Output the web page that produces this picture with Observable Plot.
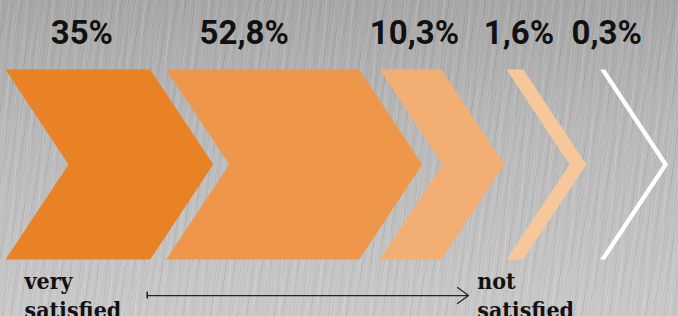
<!DOCTYPE html>
<html><head><meta charset="utf-8">
<script src="https://cdn.jsdelivr.net/npm/d3@7"></script>
<script src="https://cdn.jsdelivr.net/npm/@observablehq/plot@0.6"></script>
<style>
html,body{margin:0;padding:0;background:#bbb;}
#chart{width:678px;height:316px;overflow:hidden;position:relative;
background:
 repeating-linear-gradient(97deg, rgba(255,255,255,0.10) 0px, rgba(255,255,255,0.10) 1px, transparent 1px, transparent 4px, rgba(0,0,0,0.05) 4px, rgba(0,0,0,0.05) 5px, transparent 5px, transparent 9px),
 repeating-linear-gradient(94deg, rgba(255,255,255,0.07) 0px, rgba(255,255,255,0.07) 2px, transparent 2px, transparent 13px),
 repeating-linear-gradient(101deg, rgba(0,0,0,0.04) 0px, rgba(0,0,0,0.04) 1px, transparent 1px, transparent 7px),
 linear-gradient(to bottom, #a7a7a7 0%, #afafaf 18%, #b9b9b9 40%, #c1c1c1 70%, #c9c9c9 100%);
}
#chart svg{display:block;}
</style></head><body><div id="chart"></div>
<script>
// ---- data ----
const values = [35, 52.8, 10.3, 1.6, 0.3];
const valueLabels = ["35%", "52,8%", "10,3%", "1,6%", "0,3%"];
const colors = ["#E98225", "#EE974A", "#F2AE73", "#F6C79A", "#FFFFFF"];
const scaleEnds = ["very\nsatisfied", "not\nsatisfied"];

// ---- layout ----
const W = 678, H = 316;
const depth = 63, gap = 16, minStep = 82, left0 = 5;
const widthScale = Plot.scale({x: {type: "pow", exponent: 0.7, domain: [0, d3.max(values)], range: [0, 193]}});
const layout = [];
let prevR = null;
values.forEach((v, i) => {
  const w = widthScale.apply(v);
  const R = i === 0 ? left0 + w : Math.max(prevR + gap + w, prevR + minStep);
  layout.push({L: R - w, R, w, v, label: valueLabels[i], color: colors[i]});
  prevR = R;
});

const chevronMarks = layout.map(c => {
  const pts = [
    {x: c.L, y: 1}, {x: c.R, y: 1}, {x: c.R + depth, y: 0.5},
    {x: c.R, y: 0}, {x: c.L, y: 0}, {x: c.L + depth, y: 0.5}
  ];
  return Plot.line(pts, {x: "x", y: "y", fill: c.color, stroke: "none", curve: "linear-closed"});
});

const labelData = layout.map(c => ({x: c.L + Math.min(c.w / 2, 74) + 4, label: c.label}));
const endData = [
  {x: layout[0].L + 19, text: scaleEnds[0]},
  {x: layout[2].R + 36, text: scaleEnds[1]}
];
const yArrow = -0.19;
const arrowData = [{x1: layout[0].R - 3, x2: layout[3].L - 38}];

const chart = Plot.plot({
  width: W, height: H, margin: 0,
  style: "background: transparent; overflow: visible;",
  x: {domain: [0, W], axis: null},
  y: {domain: [0, 1], range: [259, 69], axis: null},
  marks: [
    ...chevronMarks,
    Plot.text(labelData, {x: "x", text: "label", frameAnchor: "top", lineAnchor: "bottom", dy: 43,
      fontSize: 33, fontWeight: 700, fontFamily: "Roboto, sans-serif", fill: "#111"}),
    Plot.text(endData, {x: "x", text: "text", frameAnchor: "bottom", lineAnchor: "bottom", textAnchor: "start",
      dy: 1, lineHeight: 1.24, fontSize: 23, fontWeight: 700,
      fontFamily: "'DejaVu Serif Condensed', 'DejaVu Serif', serif", fill: "#111"}),
    Plot.ruleX(arrowData, {x: "x1", y1: yArrow - 0.018, y2: yArrow + 0.018, stroke: "#222", strokeWidth: 1.6}),
    Plot.arrow(arrowData, {x1: "x1", x2: "x2", y1: () => yArrow, y2: () => yArrow,
      stroke: "#222", strokeWidth: 1.2, headLength: 17, headAngle: 72})
  ]
});
document.getElementById("chart").appendChild(chart);
</script>
</body></html>
